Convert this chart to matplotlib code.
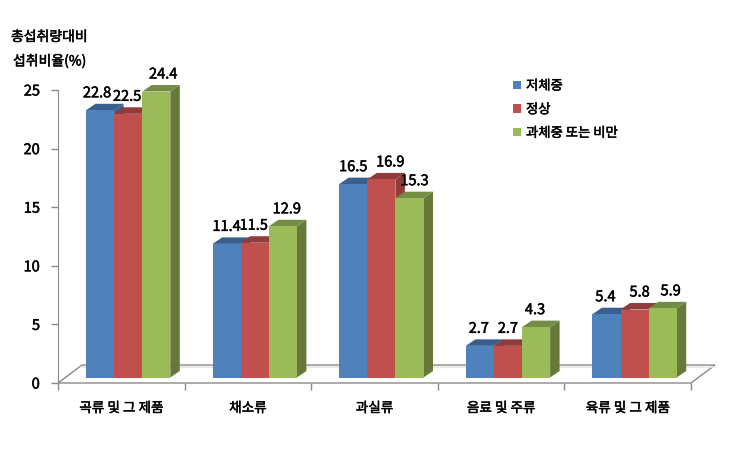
import numpy as np
import matplotlib
matplotlib.use("Agg")
import matplotlib.pyplot as plt
import matplotlib.patheffects as pe
from matplotlib.patches import Polygon
from matplotlib.transforms import ScaledTranslation

plt.rcParams['font.family'] = ['Noto Sans CJK KR', 'DejaVu Sans']

categories = ["곡류 및 그 제품", "채소류", "과실류", "음료 및 주류", "육류 및 그 제품"]
series_names = ["저체중", "정상", "과체중 또는 비만"]
low_weight = [22.8, 11.4, 16.5, 2.7, 5.4]
normal = [22.5, 11.5, 16.9, 2.7, 5.8]
over_weight = [24.4, 12.9, 15.3, 4.3, 5.9]
y_ticks = [0, 5, 10, 15, 20, 25]

# front, top, side
colors = [("#4F81BD", "#3A5F8E", "#3A5F8E"),
          ("#C0504D", "#913C3A", "#913C3A"),
          ("#9BBB59", "#748C43", "#657A3A")]

W, H = 731, 475
L, R, B, T = 58, 691, 383, 90

# 글자를 조금 두껍게
heavy = [pe.withStroke(linewidth=0.35, foreground="black")]

fig = plt.figure(figsize=(W/100, H/100), dpi=100)
ax = fig.add_axes([L/W, 1-B/H, (R-L)/W, (B-T)/H])
ax.set_xlim(0, 5)
ax.set_ylim(0, 25)

# pixel -> data
px = 5/(R-L)
py = 25/(B-T)

# 바닥
floor_dx, floor_dy = 24*px, 18*py
grey = "#8A8A8A"
ax.add_patch(Polygon([(0, 0), (floor_dx, floor_dy), (5+floor_dx, floor_dy), (5, 0)],
                     closed=True, fc="white", ec=grey, lw=1.0, clip_on=False, zorder=1))
ax.plot([floor_dx, 5+floor_dx], [floor_dy-1.5*py]*2, color="#E6E6E6", lw=1.2, clip_on=False, zorder=1.5)

# 막대
bar_w = 28.1*px
start = 28*px
lift = 5.5*py
dep_x, dep_y = 9.5*px, 6.5*py
data = [low_weight, normal, over_weight]
handles = []
z = 2
for i in range(5):
    for j in range(3):
        v = data[j][i]
        x0 = i + start + j*bar_w
        x1 = x0 + bar_w
        top = v + lift
        ax.add_patch(Polygon([(x1, lift), (x1+dep_x, lift+dep_y), (x1+dep_x, top+dep_y), (x1, top)],
                             closed=True, fc=colors[j][2], ec="none", clip_on=False, zorder=z))
        ax.add_patch(Polygon([(x0, top), (x0+dep_x, top+dep_y), (x1+dep_x, top+dep_y), (x1, top)],
                             closed=True, fc=colors[j][1], ec="none", clip_on=False, zorder=z))
        b = ax.bar(x0, v, bar_w, bottom=lift, align="edge", color=colors[j][0], clip_on=False, zorder=z+0.5)
        if i == 0:
            handles.append(b[0])
        z += 1

# 값 라벨 (픽셀 보정)
label_dx = [[-3, -1, 7], [0, -1, 4], [0, 9, 5], [-1, 0, -1], [-1, 5, 8]]
for i in range(5):
    for j in range(3):
        v = data[j][i]
        tr = ax.transData + ScaledTranslation(label_dx[i][j]/100, 0, fig.dpi_scale_trans)
        ax.text(i + start + (j+0.5)*bar_w, v + lift + 17*py, f"{v}", transform=tr,
                ha="center", va="center", fontsize=10.5, color="black", zorder=50, path_effects=heavy)

# 축
for s in ["top", "right", "bottom"]:
    ax.spines[s].set_visible(False)
ax.spines["left"].set_color(grey)
ax.patch.set_alpha(0)
ax.set_yticks(y_ticks)
ax.set_xticks(range(6))
ax.set_xticklabels([])
ax.set_xticks(np.arange(5)+0.5, categories, minor=True)
ax.tick_params(axis="x", which="major", length=5, color=grey, width=1)
ax.tick_params(axis="x", which="minor", length=0, labelsize=9.8, pad=13)
ax.tick_params(axis="y", length=5, color=grey, width=1, labelsize=10.5, pad=8)
for t in ax.get_xticklabels(minor=True) + ax.get_yticklabels():
    t.set_path_effects(heavy)

fig.text(11/W, 1-37/H, "총섭취량대비", fontsize=10, va="center", path_effects=heavy)
fig.text(13/W, 1-61/H, "섭취비율(%)", fontsize=10, va="center", path_effects=heavy)

leg = ax.legend(handles, series_names, loc="upper left", bbox_to_anchor=(510/W, 1-76/H),
                bbox_transform=fig.transFigure, frameon=False, fontsize=9.6,
                handlelength=0.6, handleheight=0.6, handletextpad=0.4, labelspacing=0.72,
                borderpad=0.2, borderaxespad=0)
for t in leg.get_texts():
    t.set_path_effects(heavy)

fig.savefig("out.png", dpi=100)
